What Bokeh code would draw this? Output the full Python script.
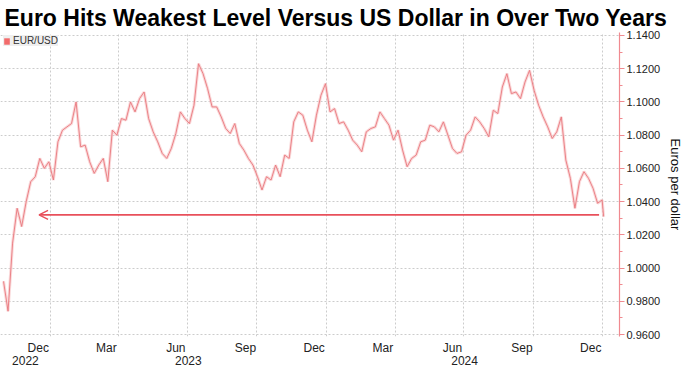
import pandas as pd
from bokeh.plotting import figure
from bokeh.models import (FixedTicker, DatetimeAxis, Range1d, Arrow, OpenHead,
                          Legend, LegendItem, NumeralTickFormatter, ColumnDataSource)
from bokeh.embed import file_html
from bokeh.resources import INLINE

# ---------------- data ----------------
title_text = "Euro Hits Weakest Level Versus US Dollar in Over Two Years"
series_name = "EUR/USD"
y_label = "Euros per dollar"

start_date = "2022-10-31"
step_days = 6
eurusd = [
    0.992, 0.974, 1.015, 1.036, 1.025, 1.040, 1.052, 1.055, 1.066, 1.060,
    1.064, 1.053, 1.076, 1.083, 1.085, 1.087, 1.100, 1.073, 1.074, 1.064,
    1.057, 1.062, 1.066, 1.052, 1.083, 1.080, 1.090, 1.089, 1.100, 1.094,
    1.102, 1.106, 1.090, 1.082, 1.076, 1.069, 1.066, 1.072, 1.081, 1.094,
    1.090, 1.087, 1.098, 1.123, 1.117, 1.108, 1.097, 1.097, 1.091, 1.084,
    1.081, 1.087, 1.075, 1.071, 1.066, 1.062, 1.055, 1.047, 1.055, 1.053,
    1.062, 1.055, 1.068, 1.066, 1.088, 1.094, 1.092, 1.083, 1.076, 1.092,
    1.104, 1.111, 1.094, 1.096, 1.087, 1.088, 1.083, 1.077, 1.074, 1.070,
    1.082, 1.084, 1.085, 1.094, 1.090, 1.086, 1.077, 1.083, 1.071, 1.061,
    1.066, 1.068, 1.076, 1.077, 1.086, 1.085, 1.082, 1.088, 1.080, 1.072,
    1.069, 1.070, 1.080, 1.083, 1.091, 1.088, 1.084, 1.079, 1.095, 1.093,
    1.109, 1.117, 1.105, 1.106, 1.102, 1.112, 1.119, 1.107, 1.098, 1.091,
    1.085, 1.078, 1.082, 1.091, 1.065, 1.054, 1.036, 1.052, 1.058, 1.054,
    1.048, 1.039, 1.041,
]
last_date = "2025-01-02"
last_value = 1.031

arrow_level = 1.032
arrow_from = "2024-12-27"
arrow_to = "2022-12-17"

month_labels = ["Dec", "Mar", "Jun", "Sep", "Dec", "Mar", "Jun", "Sep", "Dec"]
month_label_dates = ["2022-12-16", "2023-03-16", "2023-06-16", "2023-09-16", "2023-12-16",
                     "2024-03-16", "2024-06-16", "2024-09-16", "2024-12-16"]
grid_dates = ["2023-01-01", "2023-04-01", "2023-07-01", "2023-10-01", "2024-01-01",
              "2024-04-01", "2024-07-01", "2024-10-01", "2025-01-01"]
year_labels = ["2022", "2023", "2024"]

y_ticks = [0.96, 0.98, 1.00, 1.02, 1.04, 1.06, 1.08, 1.10, 1.12, 1.14]
y_minor = [0.97, 0.99, 1.01, 1.03, 1.05, 1.07, 1.09, 1.11, 1.13]

x_start, x_end = "2022-10-27", "2025-01-23"
y_start, y_end = 0.9588, 1.1418

# ---------------- build ----------------
dates = list(pd.date_range(start_date, periods=len(eurusd), freq=f"{step_days}D"))
dates.append(pd.Timestamp(last_date))
vals = eurusd + [last_value]
src = ColumnDataSource(dict(x=dates, y=vals))

def ms(d):
    return pd.Timestamp(d).value / 1e6

FONT = "Liberation Sans"
LINE = "#e9787d"
AXIS = "#f08a90"

p = figure(width=686, height=367, x_axis_type="datetime", y_axis_location="right",
           x_range=Range1d(pd.Timestamp(x_start), pd.Timestamp(x_end)),
           y_range=Range1d(y_start, y_end),
           output_backend="svg", toolbar_location=None,
           min_border_left=0, min_border_right=64, min_border_top=31, min_border_bottom=31,
           outline_line_color=None, background_fill_color="white", border_fill_color="white")

p.title.text = title_text
p.title.text_font = "Liberation Sans"
p.title.text_font_style = "bold"
p.title.text_font_size = "23px"
p.title.text_color = "#000000"
p.title.align = "left"
p.title.standoff = 4
p.title.offset = 4

# band + line
p.line("x", "y", source=src, line_color="#f6c0c2", line_width=3, line_alpha=0.6)
p.line("x", "y", source=src, line_color=LINE, line_width=1.0, line_alpha=0.9)

# arrow annotation
p.add_layout(Arrow(x_start=ms(arrow_from), y_start=arrow_level, x_end=ms(arrow_to), y_end=arrow_level,
                   line_color="#e8505b", line_width=1.6,
                   end=OpenHead(size=9, line_color="#e8505b", line_width=1.4)))

# legend swatch: zero-area quads on the series points (nothing visible in the plot)
leg_r = p.quad(left="x", right="x", top="y", bottom="y", source=src,
               fill_color="#f26b6b", line_color=None)
legend = Legend(items=[LegendItem(label=series_name, renderers=[leg_r])], location="top_left",
                background_fill_color="#efefef", background_fill_alpha=1.0, border_line_color=None,
                label_text_font=FONT, label_text_font_size="10px", label_text_color="#333333",
                glyph_width=7, glyph_height=8, padding=6, margin=3, label_standoff=3,
                label_height=8, spacing=0)
p.add_layout(legend)

# y axis (right)
ya = p.yaxis[0]
ya.ticker = FixedTicker(ticks=y_ticks, minor_ticks=y_minor)
ya.formatter = NumeralTickFormatter(format="0.0000")
ya.axis_line_color = AXIS
ya.axis_line_width = 1.2
ya.major_tick_line_color = AXIS
ya.minor_tick_line_color = AXIS
ya.major_tick_out = 5
ya.major_tick_in = 0
ya.minor_tick_out = 3
ya.minor_tick_in = 0
ya.major_label_standoff = 2
ya.major_label_text_font = FONT
ya.major_label_text_font_size = "11px"
ya.major_label_text_color = "#222222"
ya.axis_label = y_label
ya.axis_label_text_font = FONT
ya.axis_label_text_font_size = "13px"
ya.axis_label_text_font_style = "normal"
ya.axis_label_text_color = "#111111"
ya.axis_label_standoff = 5

# x axis: month labels
xa = p.xaxis[0]
xa.ticker = FixedTicker(ticks=[ms(d) for d in month_label_dates])
xa.major_label_overrides = {ms(d): lab for d, lab in zip(month_label_dates, month_labels)}
xa.axis_line_color = None
xa.major_tick_line_color = None
xa.minor_tick_line_color = None
xa.major_tick_out = 0
xa.major_tick_in = 0
xa.minor_tick_out = 0
xa.minor_tick_in = 0
xa.major_label_standoff = 4
xa.major_label_text_font = FONT
xa.major_label_text_font_size = "12px"
xa.major_label_text_color = "#222222"

# second axis: year labels, centred on each year's visible part
x0, x1 = pd.Timestamp(x_start), pd.Timestamp(x_end)
year_pos = []
for lab in year_labels:
    a = max(pd.Timestamp(f"{lab}-01-01"), x0)
    b = min(pd.Timestamp(f"{int(lab) + 1}-01-01"), x1)
    year_pos.append(a + (b - a) / 2)
yr = DatetimeAxis(ticker=FixedTicker(ticks=[ms(d) for d in year_pos]),
                  major_label_overrides={ms(d): lab for d, lab in zip(year_pos, year_labels)},
                  axis_line_color=None, major_tick_line_color=None, minor_tick_line_color=None,
                  major_tick_out=0, major_tick_in=0, minor_tick_out=0, minor_tick_in=0,
                  major_label_standoff=-2, major_label_text_font=FONT,
                  major_label_text_font_size="12px", major_label_text_color="#222222")
p.add_layout(yr, "below")

# grids
p.xgrid[0].ticker = FixedTicker(ticks=[ms(d) for d in grid_dates])
for g in (p.xgrid[0], p.ygrid[0]):
    g.grid_line_color = "#cccccc"
    g.grid_line_dash = "2 2"
    g.grid_line_width = 1

open("out.html", "w").write(file_html(p, INLINE))
